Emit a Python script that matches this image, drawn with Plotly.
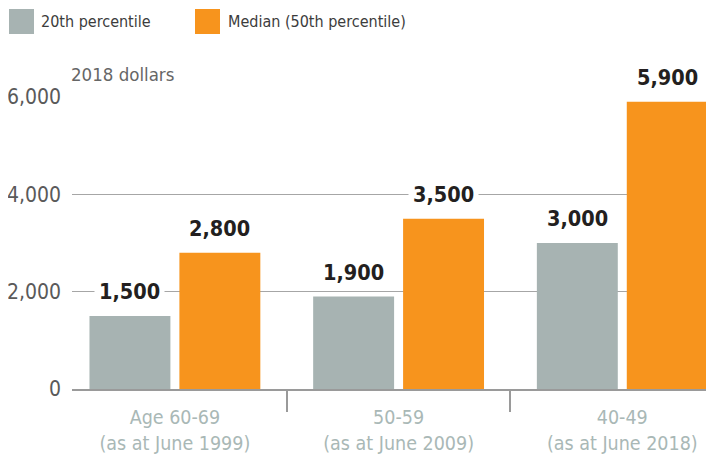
import plotly.graph_objects as go

categories = ["Age 60-69<br>(as at June 1999)", "50-59<br>(as at June 2009)", "40-49<br>(as at June 2018)"]
p20_values = [1500, 1900, 3000]
median_values = [2800, 3500, 5900]
series_names = ["20th percentile", "Median (50th percentile)"]
y_ticks = [0, 2000, 4000, 6000]
unit_label = "2018 dollars"

GRAY = "#a7b3b2"
ORANGE = "#f7941d"
FONT = "DejaVu Sans Condensed, Liberation Sans Narrow, Arial Narrow, sans-serif"

# page has an 8px body margin; the figure is sized to fill the rest of the window
OFF = 8
W, H = 714 - OFF, 460 - OFF
ML, MR, MT, MB = 64, 0, 89, 71
PW, PH = W - ML - MR, H - MT - MB


def px_x(px):
    return (px - OFF - ML) / PW


def px_y(py):
    return (H + OFF - MB - py) / PH


fig = go.Figure()
fig.add_trace(go.Bar(x=categories, y=p20_values, name=series_names[0],
                     marker=dict(color=GRAY, line=dict(width=0)), showlegend=False))
fig.add_trace(go.Bar(x=categories, y=median_values, name=series_names[1],
                     marker=dict(color=ORANGE, line=dict(width=0)), showlegend=False))

annotations = []
for vals, shift in ((p20_values, -45), (median_values, 45)):
    for c, v in zip(categories, vals):
        annotations.append(dict(
            x=c, y=v, xref="x", yref="y", xshift=shift, yshift=7,
            text=f"<b>{v:,}</b>", showarrow=False, yanchor="bottom",
            font=dict(family=FONT, size=21.5, color="#231f20"),
            bgcolor="white", borderpad=4))

# legend (drawn manually for large swatches)
shapes = []
for (x0, color) in ((9, GRAY), (195, ORANGE)):
    shapes.append(dict(type="rect", xref="paper", yref="paper",
                       x0=px_x(x0), x1=px_x(x0 + 25), y0=px_y(34), y1=px_y(9),
                       fillcolor=color, line=dict(width=0), layer="above"))
for (x0, name) in ((39, series_names[0]), (226, series_names[1])):
    annotations.append(dict(x=px_x(x0), y=px_y(22), xref="paper", yref="paper",
                            text=name, showarrow=False, xanchor="left", yanchor="middle",
                            font=dict(family=FONT, size=16, color="#3c3c3c")))
annotations.append(dict(x=px_x(69), y=px_y(75), xref="paper", yref="paper",
                        text=unit_label, showarrow=False, xanchor="left", yanchor="middle",
                        font=dict(family=FONT, size=18.5, color="#666666")))

fig.update_layout(
    width=W, height=H,
    margin=dict(l=ML, r=MR, t=MT, b=MB, pad=0),
    paper_bgcolor="white", plot_bgcolor="white",
    barmode="group", bargap=0.196, bargroupgap=0.1,
    font=dict(family=FONT),
    annotations=annotations, shapes=shapes,
    showlegend=False,
)
fig.update_xaxes(
    type="category", range=[-0.46, 2.41],
    showline=True, linecolor="#9a9a9a", linewidth=2,
    ticks="outside", tickson="boundaries", ticklen=21, tickwidth=2, tickcolor="#9a9a9a",
    tickfont=dict(family=FONT, size=19.5, color="#a9b8b6"),
    ticklabelstandoff=10,
    showgrid=False, zeroline=False, fixedrange=True,
)
fig.update_yaxes(
    range=[0, 6000], tickvals=y_ticks, tickformat=",",
    showgrid=True, gridcolor="#a6a6a6", gridwidth=1,
    zeroline=False, showline=False, ticks="",
    tickfont=dict(family=FONT, size=21, color="#5a5a5a"),
    ticklabelstandoff=10, fixedrange=True,
)

fig.write_html("out.html")
